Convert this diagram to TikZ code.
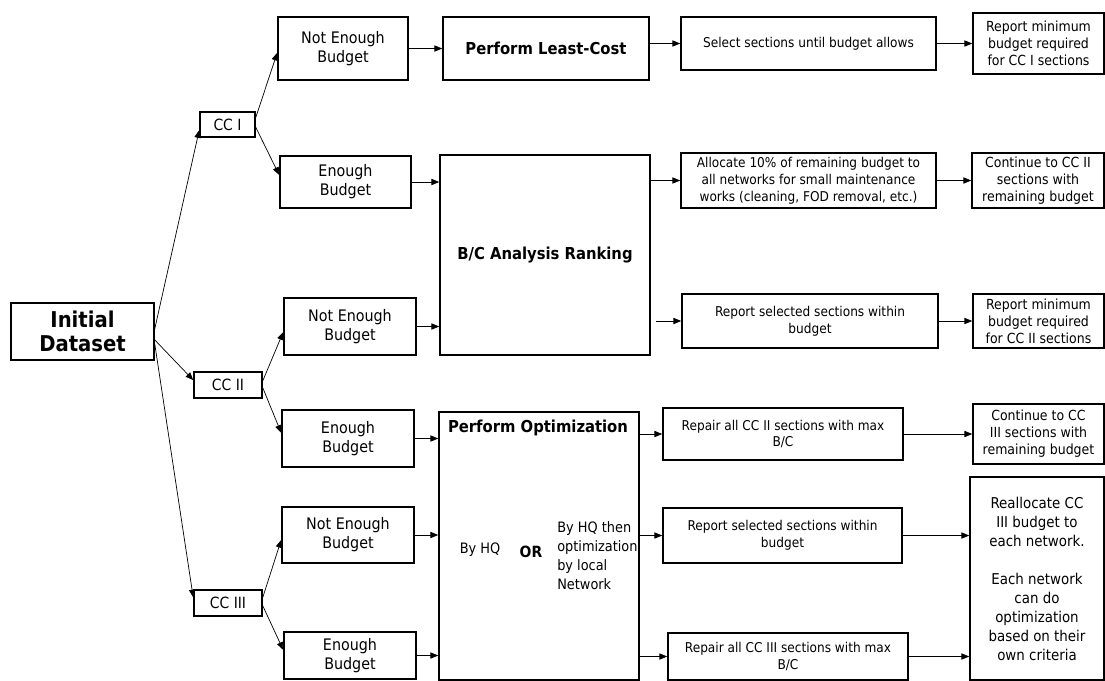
\documentclass[tikz,border=0pt]{standalone}
\usepackage{fontspec}
\setmainfont{DejaVu Sans Condensed}
\usetikzlibrary{arrows.meta,positioning}

\begin{document}
\begin{tikzpicture}[x=0.025cm, y=-0.025cm,
    box/.style={draw, line width=1.1pt, align=center, inner sep=2pt},
    budget/.style={box, font=\fontsize{11.3}{13.5}\selectfont},
    small/.style={box, font=\fontsize{9.6}{12}\selectfont},
    last/.style={box, font=\fontsize{9.9}{12}\selectfont},
    title/.style={box, font=\fontsize{11.7}{14}\selectfont\bfseries},
    ccbox/.style={box, font=\fontsize{11}{13}\selectfont, minimum width=1.7cm, minimum height=0.65cm, inner sep=1pt},
    arr/.style={-{Triangle[length=5.5pt,width=4.4pt]}, line width=0.5pt}]
  \useasboundingbox (0,0) rectangle (1105,680);

  % left part
  \node[box, font=\fontsize{15.5}{17.5}\selectfont\bfseries, minimum width=3.575cm, minimum height=1.425cm] (init) at (82.5,331.5) {Initial\\Dataset};
  \node[ccbox, minimum width=1.375cm, minimum height=0.625cm] (cc1) at (227.5,124.5) {CC I};
  \node[ccbox] (cc2) at (228,385) {CC II};
  \node[ccbox] (cc3) at (228,603) {CC III};

  \node[budget, minimum width=3.25cm, minimum height=1.575cm] (ne1) at (343,48.5) {Not Enough\\Budget};
  \node[budget, minimum width=3.275cm, minimum height=1.3cm] (eb1) at (345.5,182) {Enough\\Budget};
  \node[budget, minimum width=3.3cm, minimum height=1.425cm] (ne2) at (350,326.5) {Not Enough\\Budget};
  \node[budget, minimum width=3.3cm, minimum height=1.425cm] (eb2) at (348,438.5) {Enough\\Budget};
  \node[budget, minimum width=3.3cm, minimum height=1.4cm] (ne3) at (348,535) {Not Enough\\Budget};
  \node[budget, minimum width=3.3cm, minimum height=1.175cm] (eb3) at (350,655.5) {Enough\\Budget};

  % middle part
  \node[title, minimum width=5.15cm, minimum height=1.575cm] (lc) at (546,48.5) {Perform Least-Cost};
  \node[title, minimum width=5.25cm, minimum height=5cm] (bc) at (545,255) {B/C Analysis Ranking};
  \node[box, minimum width=5cm, minimum height=6.7cm] (opt) at (539,546) {};
  \node[font=\fontsize{11.7}{14}\selectfont\bfseries] (optt) at (538,428) {Perform Optimization};
  \node[font=\fontsize{10.2}{13.5}\selectfont] (byhq) at (480,550) {By HQ};
  \node[font=\fontsize{11}{13}\selectfont\bfseries] (orr) at (531,552) {OR};
  \node[font=\fontsize{10.2}{13.5}\selectfont, align=left, anchor=west, inner sep=0pt] (bynet) at (557,556) {By HQ then\\optimization\\by local\\Network};

  % right part
  \node[small, minimum width=6.375cm, minimum height=1.325cm] (sel) at (808.5,43.5) {Select sections until budget allows};
  \node[small, minimum width=6.375cm, minimum height=1.375cm] (alloc) at (808.5,180.5) {Allocate 10\% of remaining budget to\\all networks for small maintenance\\works (cleaning, FOD removal, etc.)};
  \node[small, minimum width=6.4cm, minimum height=1.35cm] (rep1) at (810,321) {Report selected sections within\\budget};
  \node[small, minimum width=6cm, minimum height=1.3cm] (rep2) at (783,434) {Repair all CC II sections with max\\B/C};
  \node[small, minimum width=5.975cm, minimum height=1.375cm] (rep3) at (782.5,535.5) {Report selected sections within\\budget};
  \node[small, minimum width=6cm, minimum height=1.175cm] (rep4) at (788,656.5) {Repair all CC III sections with max\\B/C};

  \node[last, minimum width=3.275cm, minimum height=1.525cm] (min1) at (1038.5,43.5) {Report minimum\\budget required\\for CC I sections};
  \node[last, minimum width=3.3cm, minimum height=1.375cm] (cont2) at (1038,180.5) {Continue to CC II\\sections with\\remaining budget};
  \node[last, minimum width=3.275cm, minimum height=1.35cm] (min2) at (1038.5,321) {Report minimum\\budget required\\for CC II sections};
  \node[last, minimum width=3.275cm, minimum height=1.5cm] (cont3) at (1038.5,434) {Continue to CC\\III sections with\\remaining budget};
  \node[box, font=\fontsize{10.6}{13.5}\selectfont, minimum width=3.35cm, minimum height=5.075cm] (realloc) at (1037,578.5) {Reallocate CC\\III budget to\\each network.\\[13.5pt]Each network\\can do\\optimization\\based on their\\own criteria};

  % branches
  \draw[arr] ([yshift=2pt]init.east) -- ([yshift=-4pt]cc1.west);
  \draw[arr] ([yshift=-6pt]init.east) -- ([yshift=3.5pt]cc2.west);
  \draw[arr] ([yshift=-9pt]init.east) -- ([yshift=4pt]cc3.west);
  \draw[arr] ([yshift=5pt]cc1.east) -- ([yshift=-3pt]ne1.west);
  \draw[arr] ([yshift=-2pt]cc1.east) -- ([yshift=5pt]eb1.west);
  \draw[arr] ([yshift=3pt]cc2.east) -- ([yshift=-4pt]ne2.west);
  \draw[arr] ([yshift=-2pt]cc2.east) -- ([yshift=4pt]eb2.west);
  \draw[arr] ([yshift=4pt]cc3.east) -- ([yshift=-3.5pt]ne3.west);
  \draw[arr] ([yshift=-2pt]cc3.east) -- ([yshift=4pt]eb3.west);

  % into the middle boxes
  \draw[arr] (ne1.east) -- (lc.west);
  \draw[arr] (eb1.east) -- (eb1.east -| bc.west);
  \draw[arr] (ne2.east) -- (ne2.east -| bc.west);
  \draw[arr] (eb2.east) -- (eb2.east -| opt.west);
  \draw[arr] (ne3.east) -- (ne3.east -| opt.west);
  \draw[arr] (eb3.east) -- (eb3.east -| opt.west);

  % out of the middle boxes
  \draw[arr] (sel.west -| lc.east) -- (sel.west);
  \draw[arr] (alloc.west -| bc.east) -- (alloc.west);
  \draw[arr] ([xshift=4pt]rep1.west -| bc.east) -- (rep1.west);
  \draw[arr] (rep2.west -| opt.east) -- (rep2.west);
  \draw[arr] (rep3.west -| opt.east) -- (rep3.west);
  \draw[arr] (rep4.west -| opt.east) -- (rep4.west);

  % to the last column
  \draw[arr] (sel.east) -- (sel.east -| min1.west);
  \draw[arr] (alloc.east) -- (alloc.east -| cont2.west);
  \draw[arr] (rep1.east) -- (rep1.east -| min2.west);
  \draw[arr] (rep2.east) -- (rep2.east -| cont3.west);
  \draw[arr] (rep3.east) -- (rep3.east -| realloc.west);
  \draw[arr] (rep4.east) -- (rep4.east -| realloc.west);
\end{tikzpicture}
\end{document}
